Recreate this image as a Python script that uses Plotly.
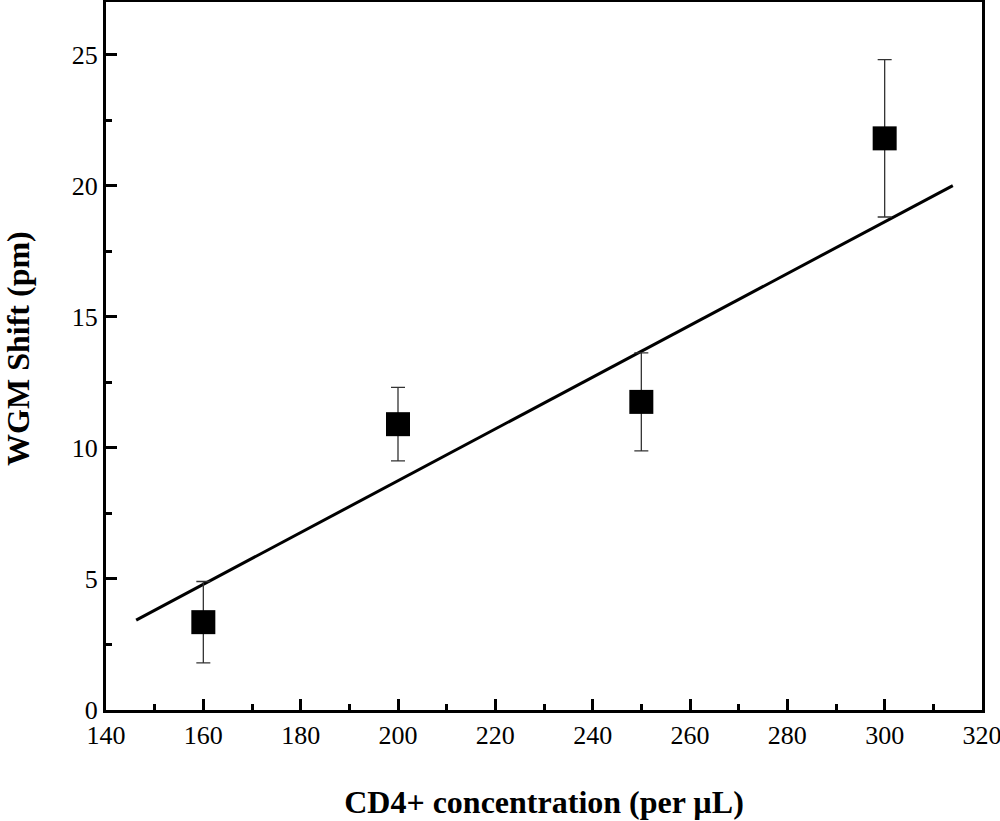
import plotly.graph_objects as go

conc = [160, 200, 250, 300]
shift = [3.35, 10.9, 11.75, 21.8]
shift_err = [1.55, 1.4, 1.87, 3.0]
fit_x = [146.2, 314.0]
fit_y = [3.43, 20.0]
x_ticks = [140, 160, 180, 200, 220, 240, 260, 280, 300, 320]
y_ticks = [0, 5, 10, 15, 20, 25]

font = "Liberation Serif, Times New Roman, serif"

fig = go.Figure()
fig.add_trace(go.Scatter(x=fit_x, y=fit_y, mode="lines",
                         line=dict(color="black", width=3), showlegend=False))
fig.add_trace(go.Scatter(x=conc, y=shift, mode="markers",
                         marker=dict(symbol="square", size=24, color="black"),
                         error_y=dict(type="data", array=shift_err, color="#333333",
                                      thickness=1.3, width=7),
                         showlegend=False))

axis_common = dict(showline=True, linecolor="black", linewidth=3, mirror=True,
                   ticks="inside", tickwidth=3, ticklen=11, tickcolor="black",
                   showgrid=False, zeroline=False, automargin=False,
                   ticklabeloverflow="allow",
                   tickfont=dict(family=font, size=26, color="black"))

fig.update_xaxes(range=[140, 320], tickvals=x_ticks, ticktext=[str(v) for v in x_ticks],
                 minor=dict(ticks="inside", dtick=10, ticklen=6, tickwidth=3, tickcolor="black"),
                 title=dict(text="<b>CD4+ concentration (per µL)</b>", standoff=42,
                            font=dict(family=font, size=32, color="black")),
                 **axis_common)
fig.update_yaxes(range=[0, 27], tickvals=y_ticks, ticktext=[str(v) for v in y_ticks],
                 minor=dict(ticks="inside", dtick=2.5, ticklen=6, tickwidth=3, tickcolor="black"),
                 **axis_common)

fig.add_annotation(text="<b>WGM Shift (pm)</b>", textangle=-90,
                   xref="paper", yref="paper", x=0, y=0.51,
                   xanchor="center", yanchor="middle", xshift=-88, showarrow=False,
                   font=dict(family=font, size=32, color="black"))

fig.update_layout(width=1000, height=821, plot_bgcolor="white", paper_bgcolor="white",
                  margin=dict(l=106, r=18, t=2, b=111))

fig.write_html("out.html", config={"displayModeBar": False},
               post_script="document.body.style.margin='0';document.body.style.overflow='hidden';")
